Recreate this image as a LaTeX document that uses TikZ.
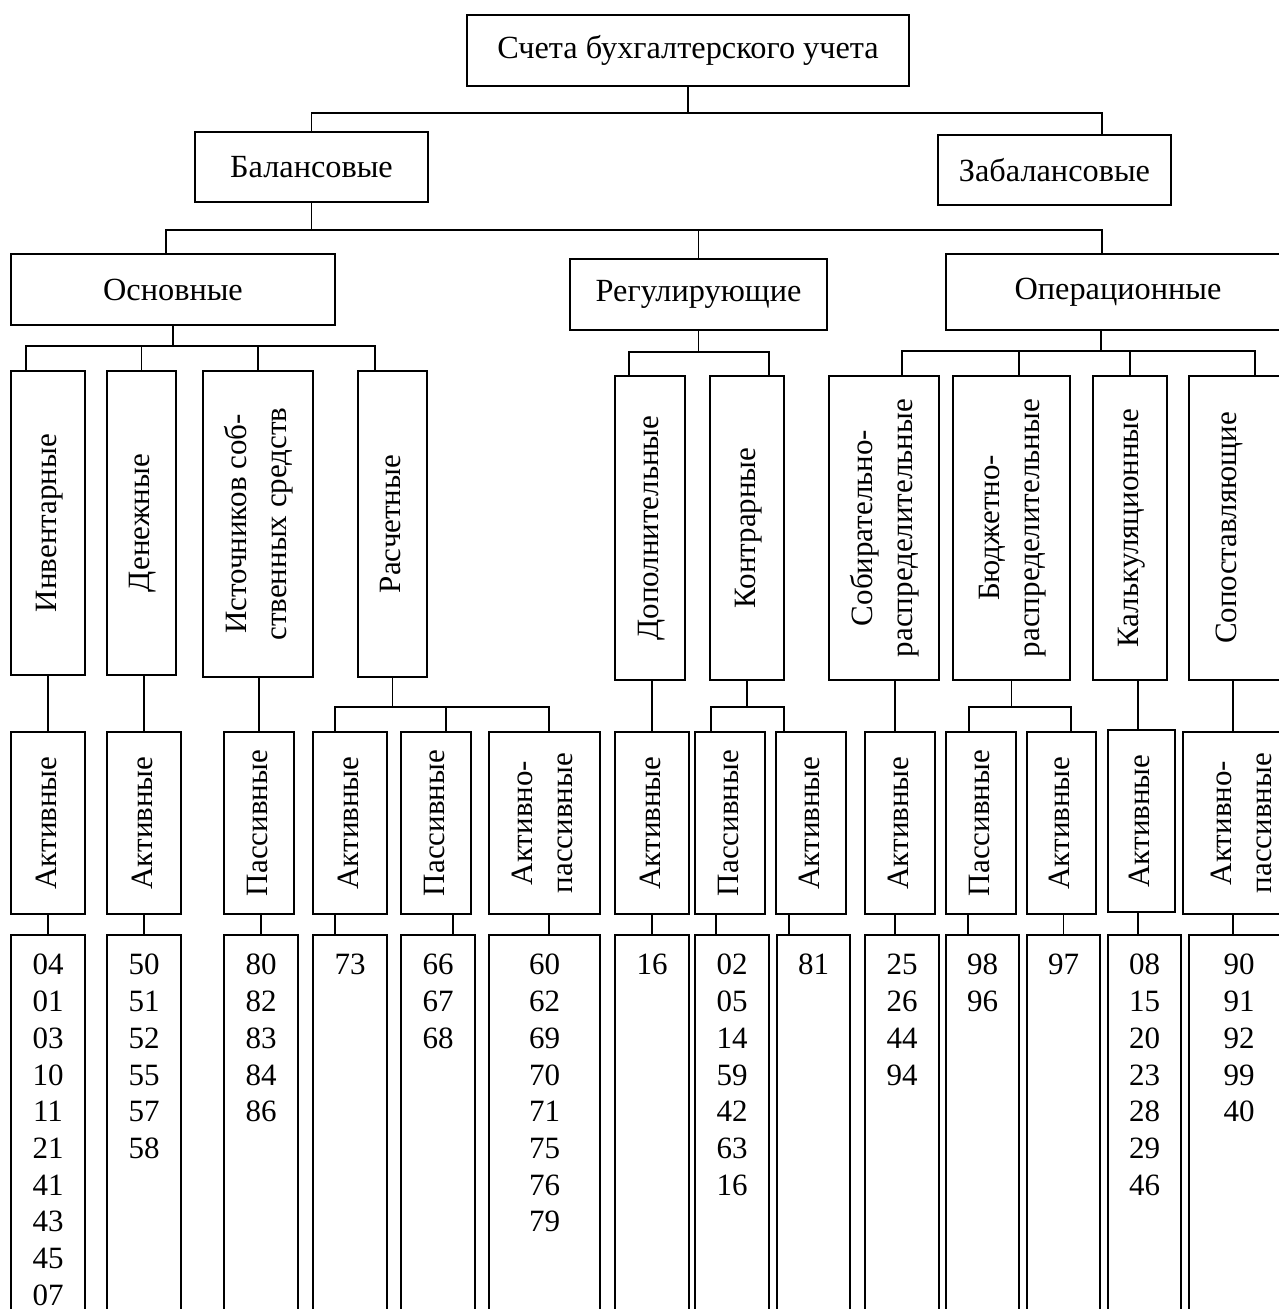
\documentclass[tikz,border=0pt]{standalone}
\usepackage{fontspec}
\setmainfont{Liberation Serif}
\usepackage{graphicx}
\newcommand{\vlab}[1]{\rotatebox{90}{\fontsize{31}{40}\selectfont\begin{tabular}{@{}c@{}}#1\end{tabular}}}
\newcommand{\nums}[1]{\begin{tabular}[t]{@{}c@{}}#1\end{tabular}}
\begin{document}
\begin{tikzpicture}[x=1pt,y=-1pt,
  box/.style={draw,line width=1.8pt,rectangle,inner sep=0pt,align=center,font=\fontsize{31}{36.7}\selectfont},
  hbox/.style={box,font=\fontsize{32.3}{38}\selectfont},
  numbox/.style={box,anchor=north,text height=40pt,text depth=346pt},
  conn/.style={line width=1.8pt}]
\fill[white] (0,0) rectangle (1279,1309);
\useasboundingbox (0,0) rectangle (1279,1309);

% level 0-2
\node[hbox,minimum width=442pt,minimum height=71pt] (root) at (688,50.5) {Счета бухгалтерского учета};
\node[hbox,minimum width=233pt,minimum height=70pt] (bal) at (311.5,167) {Балансовые};
\node[hbox,minimum width=233pt,minimum height=70pt] (zabal) at (1054.5,170) {Забалансовые};
\node[hbox,minimum width=324pt,minimum height=71pt] (osn) at (173,289.5) {Основные};
\node[hbox,minimum width=257pt,minimum height=71pt] (reg) at (698.5,294.5) {Регулирующие};
\node[hbox,minimum width=344pt,minimum height=76pt] (oper) at (1118,292) {Операционные};

% level 3
\node[box,minimum width=74pt,minimum height=304pt] (inv) at (48,523) {\vlab{Инвентарные}};
\node[box,minimum width=69pt,minimum height=304pt] (den) at (141.5,523) {\vlab{Денежные}};
\node[box,minimum width=110pt,minimum height=306pt] (ist) at (258,524) {\vlab{Источников соб-\\ственных средств}};
\node[box,minimum width=69pt,minimum height=306pt] (ras) at (392.5,524) {\vlab{Расчетные}};
\node[box,minimum width=70pt,minimum height=304pt] (dop) at (650,528) {\vlab{Дополнительные}};
\node[box,minimum width=74pt,minimum height=304pt] (kon) at (747,528) {\vlab{Контрарные}};
\node[box,minimum width=110pt,minimum height=304pt] (sob) at (884,528) {\vlab{Собирательно-\\распределительные}};
\node[box,minimum width=117pt,minimum height=304pt] (bud) at (1011.5,528) {\vlab{Бюджетно-\\распределительные}};
\node[box,minimum width=74pt,minimum height=304pt] (kal) at (1130,528) {\vlab{Калькуляционные}};
\node[box,minimum width=101pt,minimum height=304pt] (sop) at (1239.5,528) {\vlab{Сопоставляющие}\hspace*{23pt}};

% level 4
\node[box,minimum width=74pt,minimum height=182pt] (a1) at (48,823) {\vlab{Активные}};
\node[box,minimum width=74pt,minimum height=182pt] (a2) at (144,823) {\vlab{Активные}};
\node[box,minimum width=70pt,minimum height=182pt] (p3) at (259,823) {\vlab{Пассивные}};
\node[box,minimum width=74pt,minimum height=182pt] (a4) at (350,823) {\vlab{Активные}};
\node[box,minimum width=70pt,minimum height=182pt] (p5) at (436,823) {\vlab{Пассивные}};
\node[box,minimum width=111pt,minimum height=182pt] (ap6) at (544.5,823) {\vlab{Активно-\\пассивные}};
\node[box,minimum width=74pt,minimum height=182pt] (a7) at (652,823) {\vlab{Активные}};
\node[box,minimum width=70pt,minimum height=182pt] (p8) at (730,823) {\vlab{Пассивные}};
\node[box,minimum width=70pt,minimum height=182pt] (a9) at (811,823) {\vlab{Активные}};
\node[box,minimum width=70pt,minimum height=182pt] (a10) at (900,823) {\vlab{Активные}};
\node[box,minimum width=70pt,minimum height=182pt] (p11) at (981,823) {\vlab{Пассивные}};
\node[box,minimum width=69pt,minimum height=182pt] (a12) at (1061.5,823) {\vlab{Активные}};
\node[box,minimum width=67pt,minimum height=182pt] (a13) at (1141.5,821) {\vlab{Активные}};
\node[box,minimum width=120pt,minimum height=182pt] (ap14) at (1243,823) {\vlab{Активно-\\пассивные}};

% level 5
\node[numbox,minimum width=74pt] (n1) at (48,934) {\nums{04\\01\\03\\10\\11\\21\\41\\43\\45\\07}};
\node[numbox,minimum width=74pt] (n2) at (144,934) {\nums{50\\51\\52\\55\\57\\58}};
\node[numbox,minimum width=74pt] (n3) at (261,934) {\nums{80\\82\\83\\84\\86}};
\node[numbox,minimum width=74pt] (n4) at (350,934) {\nums{73}};
\node[numbox,minimum width=74pt] (n5) at (438,934) {\nums{66\\67\\68}};
\node[numbox,minimum width=111pt] (n6) at (544.5,934) {\nums{60\\62\\69\\70\\71\\75\\76\\79}};
\node[numbox,minimum width=74pt] (n7) at (652,934) {\nums{16}};
\node[numbox,minimum width=74pt] (n8) at (732,934) {\nums{02\\05\\14\\59\\42\\63\\16}};
\node[numbox,minimum width=73pt] (n9) at (813.5,934) {\nums{81}};
\node[numbox,minimum width=74pt] (n10) at (902,934) {\nums{25\\26\\44\\94}};
\node[numbox,minimum width=73pt] (n11) at (982.5,934) {\nums{98\\96}};
\node[numbox,minimum width=73pt] (n12) at (1063.5,934) {\nums{97}};
\node[numbox,minimum width=73pt] (n13) at (1144.5,934) {\nums{08\\15\\20\\23\\28\\29\\46}};
\node[numbox,minimum width=100pt] (n14) at (1239,934) {\nums{90\\91\\92\\99\\40}};

% connectors level 0 -> 1
\draw[conn] (root.south) -- ++(0,26) coordinate (h0);
\draw[conn] (bal.north) |- (h0) -| ([xshift=47.5pt]zabal.north);
% level 1 -> 2
\draw[conn] (bal.south) -- ++(0,27) coordinate (h1);
\draw[conn] ([xshift=-7pt]osn.north) |- (h1) -| ([xshift=-16pt]oper.north);
\draw[conn] (reg.north) -- (reg.north |- h1);
% level 2 -> 3
\draw[conn] (osn.south) -- ++(0,20) coordinate (h2);
\draw[conn] ([xshift=-22pt]inv.north) |- (h2) -| ([xshift=-17.5pt]ras.north);
\draw[conn] (den.north) -- (den.north |- h2);
\draw[conn] (ist.north) -- (ist.north |- h2);
\draw[conn] (reg.south) -- ++(0,21) coordinate (h3);
\draw[conn] ([xshift=-21pt]dop.north) |- (h3) -| ([xshift=22pt]kon.north);
\draw[conn] ([xshift=-17pt]oper.south) -- ++(0,20) coordinate (h4);
\draw[conn] ([xshift=18pt]sob.north) |- (h4) -| ([xshift=15.5pt]sop.north);
\coordinate (cb) at ([xshift=7.5pt]bud.north);
\draw[conn] (cb) -- (cb |- h4);
\draw[conn] (kal.north) -- (kal.north |- h4);
% level 3 -> 4
\draw[conn] (inv.south) -- (a1.north);
\draw[conn] (a2.north) -- (a2.north |- den.south);
\draw[conn] (p3.north) -- (p3.north |- ist.south);
\draw[conn] (ras.south) -- ++(0,29) coordinate (h5);
\draw[conn] ([xshift=-15pt]a4.north) |- (h5) -| ([xshift=4.5pt]ap6.north);
\coordinate (cp5) at ([xshift=10pt]p5.north);
\draw[conn] (cp5) -- (cp5 |- h5);
\draw[conn] (a7.north) -- (a7.north |- dop.south);
\draw[conn] (kon.south) -- ++(0,26) coordinate (h6);
\draw[conn] ([xshift=-19pt]p8.north) |- (h6) -| ([xshift=-27pt]a9.north);
\coordinate (ca10) at ([xshift=-5pt]a10.north);
\draw[conn] (ca10) -- (ca10 |- sob.south);
\draw[conn] (bud.south) -- ++(0,26) coordinate (h7);
\draw[conn] ([xshift=-12pt]p11.north) |- (h7) -| ([xshift=9.5pt]a12.north);
\coordinate (ca13) at ([xshift=-3.5pt]a13.north);
\draw[conn] (ca13) -- (ca13 |- kal.south);
\coordinate (ca14) at ([xshift=-10pt]ap14.north);
\draw[conn] (ca14) -- (ca14 |- sop.south);
% level 4 -> 5
\draw[conn] (n1.north) -- (n1.north |- a1.south);
\draw[conn] (n2.north) -- (n2.north |- a2.south);
\draw[conn] (n3.north) -- (n3.north |- p3.south);
\coordinate (c4) at ([xshift=-15pt]n4.north);
\draw[conn] (c4) -- (c4 |- a4.south);
\coordinate (c5) at ([xshift=15pt]n5.north);
\draw[conn] (c5) -- (c5 |- p5.south);
\coordinate (c6) at ([xshift=4.5pt]n6.north);
\draw[conn] (c6) -- (c6 |- ap6.south);
\draw[conn] (n7.north) -- (n7.north |- a7.south);
\coordinate (c8) at ([xshift=-16pt]n8.north);
\draw[conn] (c8) -- (c8 |- p8.south);
\coordinate (c9) at ([xshift=-24.5pt]n9.north);
\draw[conn] (c9) -- (c9 |- a9.south);
\coordinate (c10) at ([xshift=-7pt]n10.north);
\draw[conn] (c10) -- (c10 |- a10.south);
\coordinate (c11) at ([xshift=-14.5pt]n11.north);
\draw[conn] (c11) -- (c11 |- p11.south);
\draw[conn] (n12.north) -- (n12.north |- a12.south);
\coordinate (c13) at ([xshift=-6.5pt]n13.north);
\draw[conn] (c13) -- (c13 |- a13.south);
\coordinate (c14) at ([xshift=-6pt]n14.north);
\draw[conn] (c14) -- (c14 |- ap14.south);
\end{tikzpicture}
\end{document}
